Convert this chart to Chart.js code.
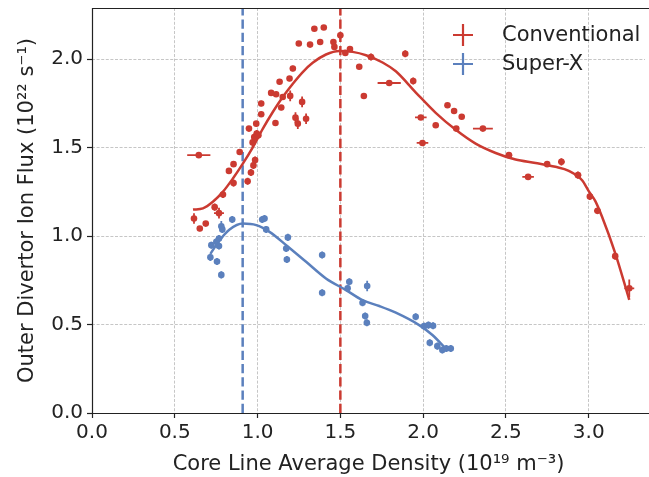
<!DOCTYPE html>
<html>
<head>
<meta charset="utf-8">
<script src="https://cdn.jsdelivr.net/npm/chart.js@4"></script>
<style>
  html, body { margin: 0; padding: 0; background: #fff; }
  canvas { display: block; }
</style>
</head>
<body>
<canvas id="chart" width="649" height="477"></canvas>
<script>
// Conventional divertor (red)
const convX = [0.645, 0.616, 0.651, 0.687, 0.741, 0.767, 0.791, 0.827, 0.855, 0.855, 0.892, 0.94, 0.96, 0.975, 0.985,
  0.97, 0.98, 0.995, 1.005, 0.948, 0.992, 1.022, 1.022, 1.082, 1.112, 1.108, 1.133, 1.143, 1.152, 1.193, 1.197,
  1.213, 1.229, 1.243, 1.269, 1.293, 1.249, 1.317, 1.343, 1.378, 1.40, 1.458, 1.464, 1.50, 1.53, 1.558, 1.614,
  1.642, 1.685, 1.795, 1.892, 1.94, 1.986, 1.996, 2.076, 2.147, 2.187, 2.233, 2.20, 2.361, 2.518, 2.634, 2.749,
  2.835, 2.935, 3.007, 3.053, 3.16, 3.245];
const convY = [1.458, 1.10, 1.043, 1.071, 1.164, 1.130, 1.235, 1.369, 1.300, 1.407, 1.476, 1.31, 1.36, 1.40, 1.43,
  1.53, 1.56, 1.58, 1.57, 1.608, 1.636, 1.689, 1.75, 1.81, 1.802, 1.64, 1.873, 1.727, 1.787, 1.891, 1.793,
  1.948, 1.67, 1.636, 1.759, 1.664, 2.089, 2.083, 2.173, 2.098, 2.18, 2.098, 2.07, 2.136, 2.036, 2.058, 1.958,
  1.792, 2.013, 1.866, 2.031, 1.877, 1.671, 1.527, 1.627, 1.74, 1.708, 1.675, 1.608, 1.608, 1.458, 1.335, 1.407,
  1.42, 1.345, 1.224, 1.143, 0.887, 0.705];
const convXErr = [0.07, 0.01, 0.01, 0.012, 0.015, 0.03, 0.015, 0.01, 0.012, 0.01, 0.01, 0.015, 0.01, 0.01, 0.01,
  0.01, 0.015, 0.015, 0.01, 0.015, 0.01, 0.01, 0.015, 0.015, 0.01, 0.015, 0.015, 0.01, 0.01, 0.015, 0.01,
  0.01, 0.01, 0.01, 0.01, 0.01, 0.01, 0.015, 0.01, 0.01, 0.01, 0.015, 0.015, 0.01, 0.015, 0.01, 0.01,
  0.015, 0.02, 0.07, 0.01, 0.01, 0.035, 0.035, 0.01, 0.01, 0.01, 0.01, 0.015, 0.06, 0.02, 0.035, 0.01,
  0.02, 0.02, 0.015, 0.02, 0.01, 0.03];
const convYErr = [0.01, 0.03, 0.015, 0.01, 0.02, 0.03, 0.02, 0.015, 0.02, 0.015, 0.015, 0.02, 0.02, 0.02, 0.02,
  0.03, 0.02, 0.02, 0.02, 0.015, 0.015, 0.015, 0.015, 0.01, 0.015, 0.015, 0.01, 0.015, 0.015, 0.015, 0.03,
  0.015, 0.03, 0.03, 0.03, 0.03, 0.01, 0.01, 0.01, 0.01, 0.01, 0.015, 0.01, 0.02, 0.01, 0.015, 0.015,
  0.01, 0.02, 0.01, 0.02, 0.02, 0.01, 0.01, 0.01, 0.01, 0.01, 0.01, 0.015, 0.01, 0.01, 0.01, 0.01,
  0.02, 0.02, 0.02, 0.015, 0.02, 0.05];

// Super-X divertor (blue)
const sxX = [0.847, 0.781, 0.787, 0.767, 0.751, 0.721, 0.767, 0.715, 0.755, 0.781, 1.028, 1.042, 1.052, 1.183,
  1.173, 1.177, 1.39, 1.39, 1.554, 1.544, 1.662, 1.634, 1.65, 1.66, 1.955, 2.006, 2.032, 2.06, 2.04, 2.086,
  2.116, 2.14, 2.167];
const sxY = [1.094, 1.056, 1.038, 0.987, 0.968, 0.949, 0.944, 0.88, 0.857, 0.781, 1.094, 1.10, 1.038, 0.993,
  0.93, 0.868, 0.893, 0.68, 0.742, 0.705, 0.718, 0.623, 0.548, 0.51, 0.544, 0.491, 0.497, 0.493, 0.397, 0.378,
  0.356, 0.365, 0.365];
const sxXErr = sxX.map(() => 0.01);
const sxYErr = [0.02, 0.03, 0.02, 0.02, 0.02, 0.02, 0.02, 0.02, 0.02, 0.02, 0.02, 0.02, 0.02, 0.02,
  0.02, 0.02, 0.02, 0.02, 0.02, 0.02, 0.03, 0.02, 0.02, 0.02, 0.02, 0.02, 0.02, 0.02, 0.02, 0.02,
  0.02, 0.02, 0.02];

// fitted trend lines
const convFitX = [0.61, 0.67, 0.73, 0.79, 0.851, 0.911, 0.972, 1.032, 1.092, 1.152, 1.213, 1.273, 1.333, 1.413,
  1.494, 1.574, 1.655, 1.755, 1.835, 1.956, 2.076, 2.197, 2.317, 2.438, 2.558, 2.679, 2.799, 2.88, 2.96, 3.0,
  3.04, 3.08, 3.16, 3.245];
const convFitY = [1.15, 1.157, 1.194, 1.25, 1.326, 1.41, 1.504, 1.608, 1.702, 1.787, 1.862, 1.928, 1.98, 2.027,
  2.047, 2.042, 2.023, 1.982, 1.932, 1.812, 1.697, 1.601, 1.523, 1.47, 1.433, 1.414, 1.392, 1.369, 1.316, 1.255,
  1.198, 1.111, 0.904, 0.64];
const sxFitX = [0.715, 0.771, 0.831, 0.911, 0.992, 1.072, 1.173, 1.293, 1.413, 1.534, 1.634, 1.735, 1.835, 1.976,
  2.056, 2.136];
const sxFitY = [0.90, 0.977, 1.038, 1.071, 1.062, 1.024, 0.949, 0.855, 0.761, 0.695, 0.638, 0.605, 0.567, 0.497,
  0.441, 0.365];

// density limits marked with dashed lines
const sxLimit = 0.91;
const convLimit = 1.5;

const xMax = 3.34;
const yMax = 2.29;

const RED = '#cb3a31';
const BLUE = '#5b80bd';
const FONT = 'DejaVu Sans';
const INK = '#222';

const pts = (xs, ys) => xs.map((x, i) => ({ x: x, y: ys[i] }));

// draws the x/y error bars for scatter datasets that carry xErr / yErr
const errorBars = {
  id: 'errorBars',
  beforeDatasetsDraw(chart) {
    const ctx = chart.ctx;
    const xs = chart.scales.x, ys = chart.scales.y;
    chart.data.datasets.forEach((ds, di) => {
      if (!ds.xErr || !chart.isDatasetVisible(di)) return;
      ctx.save();
      ctx.strokeStyle = ds.borderColor;
      ctx.lineWidth = 1.8;
      ds.data.forEach((p, i) => {
        const px = xs.getPixelForValue(p.x), py = ys.getPixelForValue(p.y);
        ctx.beginPath();
        ctx.moveTo(xs.getPixelForValue(p.x - ds.xErr[i]), py);
        ctx.lineTo(xs.getPixelForValue(p.x + ds.xErr[i]), py);
        ctx.moveTo(px, ys.getPixelForValue(p.y - ds.yErr[i]));
        ctx.lineTo(px, ys.getPixelForValue(p.y + ds.yErr[i]));
        ctx.stroke();
      });
      ctx.restore();
    });
  }
};

// spines (left, bottom, top; no right one) + legend inside the axes
const frameAndLegend = {
  id: 'frameAndLegend',
  afterDraw(chart) {
    const ctx = chart.ctx;
    const a = chart.chartArea;
    const edge = chart.width;
    ctx.save();
    ctx.strokeStyle = INK;
    ctx.lineWidth = 1.2;
    ctx.setLineDash([]);
    ctx.beginPath();
    ctx.moveTo(edge, a.top + 0.5);
    ctx.lineTo(a.left + 0.5, a.top + 0.5);
    ctx.lineTo(a.left + 0.5, a.bottom + 0.5);
    ctx.lineTo(edge, a.bottom + 0.5);
    ctx.stroke();

    const items = [['Conventional', RED], ['Super-X', BLUE]];
    items.forEach(([label, color], i) => {
      const cx = 463, cy = 35 + i * 29;
      ctx.strokeStyle = color;
      ctx.lineWidth = 2.2;
      ctx.beginPath();
      ctx.moveTo(cx - 10, cy);
      ctx.lineTo(cx + 10, cy);
      ctx.moveTo(cx, cy - 11);
      ctx.lineTo(cx, cy + 11);
      ctx.stroke();
      ctx.fillStyle = INK;
      ctx.font = '21px "' + FONT + '"';
      ctx.textBaseline = 'middle';
      ctx.textAlign = 'left';
      ctx.fillText(label, 502, cy + 1);
    });
    ctx.restore();
  }
};

const gridOpts = {
  color: '#b8b8b8', lineWidth: 0.8,
  tickColor: INK, tickLength: 5, tickBorderDash: [], tickWidth: 1.2
};

const ctx = document.getElementById('chart').getContext('2d');
new Chart(ctx, {
  type: 'scatter',
  data: {
    datasets: [
      {
        type: 'line', label: 'sxLimit',
        data: [{ x: sxLimit, y: 0 }, { x: sxLimit, y: yMax }],
        borderColor: BLUE, borderWidth: 2.5, borderDash: [9.25, 4], pointRadius: 0, order: 5
      },
      {
        type: 'line', label: 'convLimit',
        data: [{ x: convLimit, y: 0 }, { x: convLimit, y: yMax }],
        borderColor: RED, borderWidth: 2.5, borderDash: [9.25, 4], pointRadius: 0, order: 5
      },
      {
        type: 'line', label: 'convFit',
        data: pts(convFitX, convFitY),
        borderColor: RED, borderWidth: 2.5, pointRadius: 0,
        cubicInterpolationMode: 'monotone', order: 4
      },
      {
        type: 'line', label: 'sxFit',
        data: pts(sxFitX, sxFitY),
        borderColor: BLUE, borderWidth: 2.5, pointRadius: 0,
        cubicInterpolationMode: 'monotone', order: 4
      },
      {
        label: 'Conventional',
        data: pts(convX, convY), xErr: convXErr, yErr: convYErr,
        borderColor: RED, backgroundColor: RED, pointRadius: 3.3, pointBorderWidth: 0, order: 1
      },
      {
        label: 'Super-X',
        data: pts(sxX, sxY), xErr: sxXErr, yErr: sxYErr,
        borderColor: BLUE, backgroundColor: BLUE, pointRadius: 3.3, pointBorderWidth: 0, order: 1
      }
    ]
  },
  options: {
    responsive: false,
    animation: false,
    layout: { padding: { left: 0, right: 0, top: 8, bottom: 0 } },
    plugins: { legend: { display: false }, tooltip: { enabled: false } },
    scales: {
      x: {
        type: 'linear', min: 0, max: xMax,
        afterFit: s => { s.height = 64; s.paddingLeft = 0; s.paddingRight = 0; },
        ticks: {
          stepSize: 0.5, includeBounds: false, padding: 3,
          color: INK, font: { family: FONT, size: 20 },
          callback: v => v.toFixed(1)
        },
        grid: gridOpts,
        border: { display: false, dash: [3, 1.6] },
        title: {
          display: true, text: 'Core Line Average Density (10\u00b9\u2079 m\u207b\u00b3)',
          color: INK, font: { family: FONT, size: 21 }, padding: { top: 0, bottom: 0 }
        }
      },
      y: {
        type: 'linear', min: 0, max: yMax,
        afterFit: s => { s.width = 92; s.paddingTop = 0; s.paddingBottom = 0; },
        ticks: {
          stepSize: 0.5, includeBounds: false, padding: 4,
          color: INK, font: { family: FONT, size: 20 },
          callback: v => v.toFixed(1)
        },
        grid: gridOpts,
        border: { display: false, dash: [3, 1.6] },
        title: {
          display: true, text: 'Outer Divertor Ion Flux (10\u00b2\u00b2 s\u207b\u00b9)',
          color: INK, font: { family: FONT, size: 21 }, padding: { top: 15, bottom: 0 }
        }
      }
    }
  },
  plugins: [errorBars, frameAndLegend]
});
</script>
</body>
</html>
